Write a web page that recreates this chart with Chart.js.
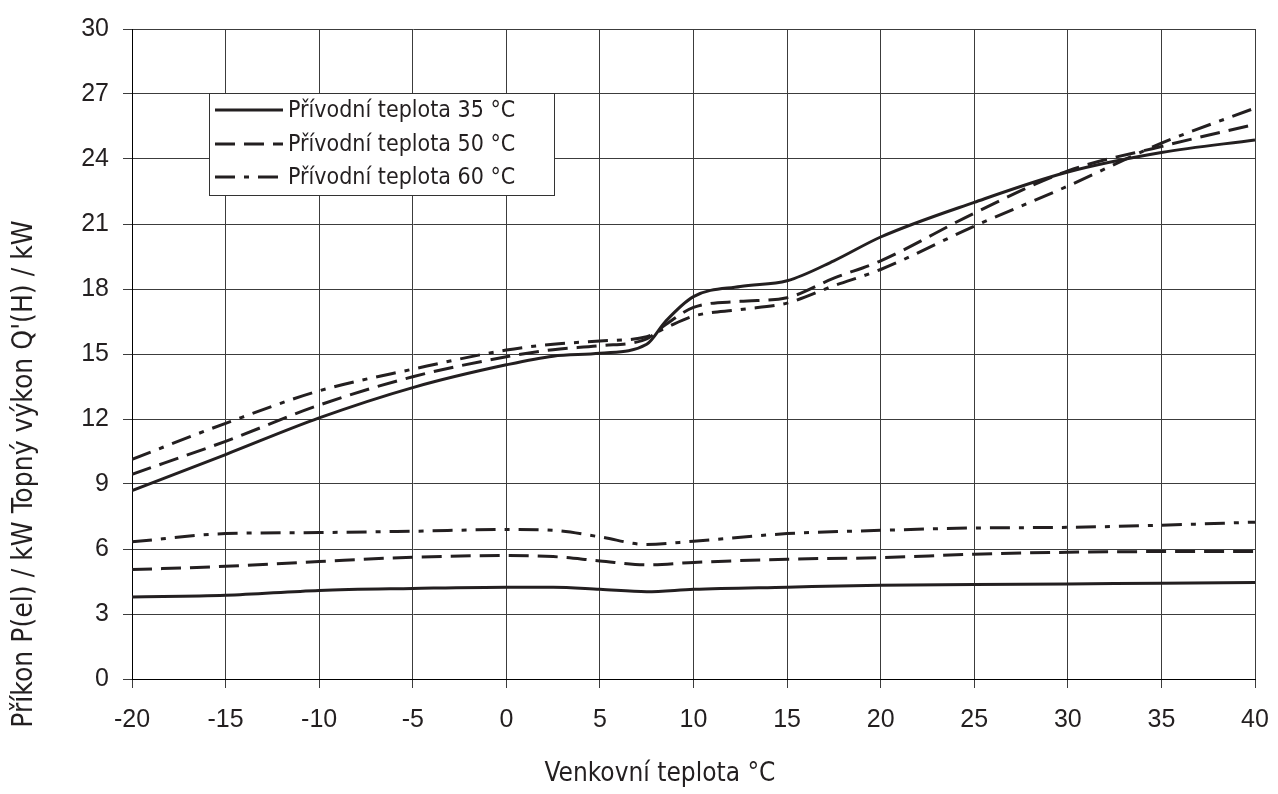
<!DOCTYPE html>
<html>
<head>
<meta charset="utf-8">
<script src="https://cdn.jsdelivr.net/npm/chart.js@4.4.1/dist/chart.umd.min.js"></script>
<style>
    html, body { margin: 0; padding: 0; background: #ffffff; }
    #wrap { width: 1278px; height: 794px; }
</style>
</head>
<body>
<div id="wrap"><canvas id="chart" width="1278" height="794"></canvas></div>
<script>
// legend labels
const seriesNames = ['Přívodní teplota 35 °C', 'Přívodní teplota 50 °C', 'Přívodní teplota 60 °C'];

// heating output Q'(H), kW
const heatTemps = [-20, -15, -10, -5, 0, 2.5, 5, 7.5, 8.5, 10, 12.5, 15, 17.5, 20, 25, 30, 35, 40];
const heat35 = [8.7, 10.36, 12.05, 13.45, 14.5, 14.9, 15.03, 15.45, 16.5, 17.65, 18.12, 18.38, 19.3, 20.4, 22.0, 23.4, 24.3, 24.88];
const heat50 = [9.45, 10.97, 12.64, 13.95, 14.87, 15.2, 15.38, 15.7, 16.35, 17.15, 17.43, 17.6, 18.5, 19.3, 21.5, 23.45, 24.58, 25.6];
const heat60 = [10.14, 11.8, 13.3, 14.3, 15.18, 15.45, 15.6, 15.8, 16.2, 16.75, 17.05, 17.35, 18.15, 18.9, 20.9, 22.75, 24.73, 26.35];

// electric input P(el), kW
const powerTemps = [-20, -15, -10, -5, 0, 2.5, 5, 7.5, 10, 15, 20, 25, 30, 35, 40];
const power35 = [3.79, 3.86, 4.09, 4.18, 4.24, 4.24, 4.14, 4.03, 4.14, 4.24, 4.33, 4.36, 4.39, 4.42, 4.45];
const power50 = [5.05, 5.2, 5.42, 5.62, 5.7, 5.65, 5.45, 5.27, 5.38, 5.53, 5.6, 5.76, 5.85, 5.88, 5.88];
const power60 = [6.33, 6.71, 6.76, 6.82, 6.9, 6.86, 6.56, 6.21, 6.36, 6.71, 6.86, 6.97, 7.0, 7.1, 7.24];

const xTitle = 'Venkovní teplota °C';
const yTitle = 'Příkon P(el) / kW Topný výkon Q\'(H) / kW';

const ink = '#231f20';
const gridColor = '#3c3c3c';
const dashStyles = [[], [20, 9], [20, 9, 5, 9]];
const condensed = "'DejaVu Sans Condensed', 'Liberation Sans Narrow', 'DejaVu Sans', sans-serif";

function toPoints(xs, ys) {
    return xs.map((x, i) => ({x: x, y: ys[i]}));
}

function makeDataset(label, xs, ys, styleIndex) {
    return {
        label: label,
        data: toPoints(xs, ys),
        borderColor: ink,
        borderWidth: 3,
        borderDash: dashStyles[styleIndex],
        borderCapStyle: 'butt',
        pointRadius: 0,
        fill: false,
        cubicInterpolationMode: 'monotone'
    };
}

const datasets = [
    makeDataset(seriesNames[0], heatTemps, heat35, 0),
    makeDataset(seriesNames[1], heatTemps, heat50, 1),
    makeDataset(seriesNames[2], heatTemps, heat60, 2),
    makeDataset(seriesNames[0], powerTemps, power35, 0),
    makeDataset(seriesNames[1], powerTemps, power50, 1),
    makeDataset(seriesNames[2], powerTemps, power60, 2)
];

// legend box inside the plot plus both axis titles
const boxLegend = {
    id: 'boxLegend',
    afterDraw(chart) {
        const ctx = chart.ctx;
        ctx.save();

        // legend frame
        ctx.fillStyle = '#ffffff';
        ctx.fillRect(209, 93, 345, 103);
        ctx.strokeStyle = '#333333';
        ctx.lineWidth = 1;
        ctx.strokeRect(209.5, 93.5, 345, 102);

        const rows = [110, 144, 177];
        ctx.font = '23px ' + condensed;
        ctx.textBaseline = 'middle';
        ctx.textAlign = 'left';
        for (let i = 0; i < 3; i++) {
            const ds = chart.data.datasets[i];
            ctx.beginPath();
            ctx.setLineDash(ds.borderDash);
            ctx.lineWidth = 3;
            ctx.lineCap = 'butt';
            ctx.strokeStyle = ink;
            ctx.moveTo(215, rows[i]);
            ctx.lineTo(283, rows[i]);
            ctx.stroke();
            ctx.setLineDash([]);
            ctx.fillStyle = ink;
            ctx.fillText(ds.label, 288, rows[i] + 1);
        }

        // axis titles
        ctx.fillStyle = ink;
        ctx.font = '26px ' + condensed;
        ctx.textAlign = 'center';
        ctx.fillText(xTitle, 660, 774);

        ctx.translate(25, 474);
        ctx.rotate(-Math.PI / 2);
        ctx.font = '28px ' + condensed;
        ctx.fillText(yTitle, 0, 0);
        ctx.restore();
    }
};

const tickFont = {size: 25, family: "'Liberation Sans', Arial, sans-serif"};

new Chart(document.getElementById('chart'), {
    type: 'line',
    data: {datasets: datasets},
    options: {
        responsive: false,
        animation: false,
        devicePixelRatio: 1,
        layout: {padding: {top: 21, right: 23, left: 0, bottom: 0}},
        plugins: {
            legend: {display: false},
            tooltip: {enabled: false},
            title: {display: false}
        },
        scales: {
            x: {
                type: 'linear',
                min: -20,
                max: 40,
                ticks: {stepSize: 5, color: ink, font: tickFont, padding: 17, maxRotation: 0},
                grid: {color: gridColor, lineWidth: 1, tickLength: 9},
                border: {color: '#000000', width: 1},
                afterFit(scale) {
                    scale.height = 115;
                    scale.paddingLeft = 0;
                    scale.paddingRight = 0;
                }
            },
            y: {
                min: 0,
                max: 30,
                ticks: {stepSize: 3, color: ink, font: tickFont, padding: 14},
                grid: {color: gridColor, lineWidth: 1, tickLength: 9},
                border: {color: '#000000', width: 1},
                afterFit(scale) { scale.width = 132; }
            }
        }
    },
    plugins: [boxLegend]
});
</script>
</body>
</html>
